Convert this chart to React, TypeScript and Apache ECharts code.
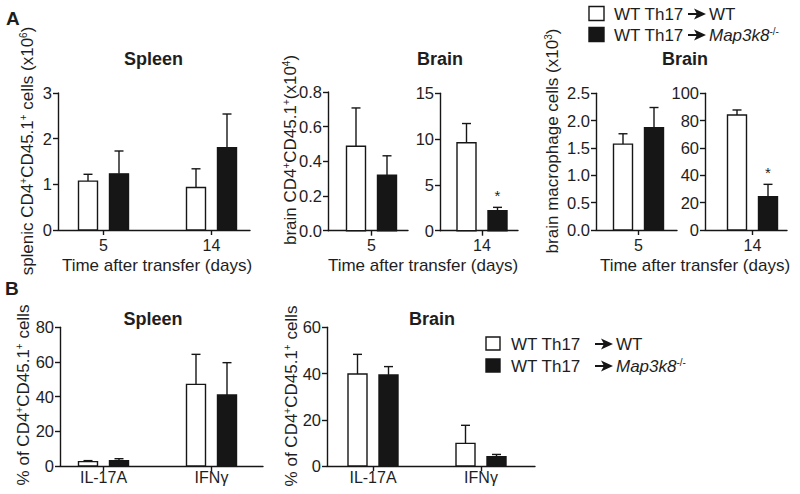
import React, { useEffect, useRef } from "react";
import * as echarts from "echarts";

// ---------- data ----------
const dayCategories = ["5", "14"];
const cytokineCategories = ["IL-17A", "IFNγ"];

// A: splenic CD4+CD45.1+ cells (x10^6), day 5 and 14
const spleenCellsWT = [1.07, 0.93];
const spleenCellsWTErr = [0.15, 0.41];
const spleenCellsKO = [1.23, 1.8];
const spleenCellsKOErr = [0.5, 0.74];

// A: brain CD4+CD45.1+ cells (x10^4), day 5
const brainCellsD5WT = [0.487];
const brainCellsD5WTErr = [0.221];
const brainCellsD5KO = [0.32];
const brainCellsD5KOErr = [0.112];
// day 14
const brainCellsD14WT = [9.6];
const brainCellsD14WTErr = [2.1];
const brainCellsD14KO = [2.18];
const brainCellsD14KOErr = [0.37];
const brainCellsD14Sig = [true];

// A: brain macrophage cells (x10^3), day 5
const macroD5WT = [1.57];
const macroD5WTErr = [0.19];
const macroD5KO = [1.87];
const macroD5KOErr = [0.37];
// day 14
const macroD14WT = [84.1];
const macroD14WTErr = [3.7];
const macroD14KO = [24.4];
const macroD14KOErr = [9.0];
const macroD14Sig = [true];

// B: % of CD4+CD45.1+ cells
const spleenPctWT = [2.5, 47.1];
const spleenPctWTErr = [0.6, 17.3];
const spleenPctKO = [3.1, 41.0];
const spleenPctKOErr = [1.1, 18.6];
const brainPctWT = [39.8, 9.8];
const brainPctWTErr = [8.5, 7.8];
const brainPctKO = [39.4, 4.0];
const brainPctKOErr = [3.6, 1.0];

// y-axis scales
const yMaxes = [3, 0.8, 15, 2.5, 100, 80, 60];
const yIntervals = [1, 0.2, 5, 0.5, 20, 20, 20];
const yDecimals = [0, 1, 0, 1, 0, 0, 0];

const legendWT = "WT";
const legendKO = "Map3k8";
const legendDonor = "WT Th17";

// ---------- style / layout ----------
const FONT = "'Liberation Sans', Arial, Helvetica, sans-serif";
const INK = "#161616";
const TEXT = "#1e1e1e";
const BAND = 108;
const BAR_W = 19;
const BAR_OFF = 15.5;
const CAP = 9;
const LW = 1.4;

type Panel = {
  left: number; right: number; top: number; bottom: number; c0: number;
  cats: string[]; wt: number[]; wtErr: number[]; ko: number[]; koErr: number[];
  sig?: boolean[]; labelMargin: number;
};

const panels: Panel[] = [
  { left: 58, right: 250, top: 93, bottom: 230, c0: 103.5, cats: dayCategories,
    wt: spleenCellsWT, wtErr: spleenCellsWTErr, ko: spleenCellsKO, koErr: spleenCellsKOErr, labelMargin: 7 },
  { left: 328, right: 408, top: 92, bottom: 230.7, c0: 371.5, cats: [dayCategories[0]],
    wt: brainCellsD5WT, wtErr: brainCellsD5WTErr, ko: brainCellsD5KO, koErr: brainCellsD5KOErr, labelMargin: 7 },
  { left: 440, right: 518, top: 93.3, bottom: 230.7, c0: 482, cats: [dayCategories[1]],
    wt: brainCellsD14WT, wtErr: brainCellsD14WTErr, ko: brainCellsD14KO, koErr: brainCellsD14KOErr,
    sig: brainCellsD14Sig, labelMargin: 7 },
  { left: 596, right: 677, top: 93.3, bottom: 230, c0: 638.5, cats: [dayCategories[0]],
    wt: macroD5WT, wtErr: macroD5WTErr, ko: macroD5KO, koErr: macroD5KOErr, labelMargin: 7 },
  { left: 705, right: 787, top: 93.3, bottom: 230, c0: 752.5, cats: [dayCategories[1]],
    wt: macroD14WT, wtErr: macroD14WTErr, ko: macroD14KO, koErr: macroD14KOErr, sig: macroD14Sig, labelMargin: 7 },
  { left: 60, right: 263, top: 327.3, bottom: 466, c0: 103.5, cats: cytokineCategories,
    wt: spleenPctWT, wtErr: spleenPctWTErr, ko: spleenPctKO, koErr: spleenPctKOErr, labelMargin: 3 },
  { left: 327, right: 535, top: 327.3, bottom: 466, c0: 373, cats: cytokineCategories,
    wt: brainPctWT, wtErr: brainPctWTErr, ko: brainPctKO, koErr: brainPctKOErr, labelMargin: 3 },
];

const supRich = {
  s: { fontSize: 10, fontFamily: FONT, fill: TEXT, verticalAlign: "top" as const },
  i: { fontSize: 17, fontFamily: FONT, fill: TEXT, fontStyle: "italic" as const },
};

function makeSeries(pi: number, means: number[], errs: number[], sig: boolean[] | undefined, fill: string, offset: number) {
  return {
    type: "custom",
    xAxisIndex: pi,
    yAxisIndex: pi,
    clip: false,
    encode: { x: 0, y: 1 },
    data: means.map((m, i) => [i, m, errs[i], sig && sig[i] ? 1 : 0]),
    renderItem: (_params: any, api: any) => {
      const i = api.value(0);
      const m = api.value(1);
      const e = api.value(2);
      const s = api.value(3);
      const p0 = api.coord([i, 0]);
      const p1 = api.coord([i, m]);
      const p2 = api.coord([i, m + e]);
      const cx = p0[0] + offset;
      const children: any[] = [
        { type: "line", shape: { x1: cx, y1: p1[1], x2: cx, y2: p2[1] }, style: { stroke: INK, lineWidth: LW } },
        { type: "line", shape: { x1: cx - CAP / 2, y1: p2[1], x2: cx + CAP / 2, y2: p2[1] }, style: { stroke: INK, lineWidth: LW } },
        { type: "rect", shape: { x: cx - BAR_W / 2, y: p1[1], width: BAR_W, height: p0[1] - p1[1] },
          style: { fill, stroke: INK, lineWidth: LW } },
      ];
      if (s) {
        children.push({ type: "text", x: cx, y: p2[1] - 4,
          style: { text: "*", fontSize: 15, fontFamily: FONT, fill: TEXT, align: "center", verticalAlign: "bottom" } });
      }
      return { type: "group", children };
    },
  };
}

function txt(x: number, y: number, text: string, extra: any = {}, rotation = 0) {
  return {
    type: "text", x, y, rotation,
    style: { text, fontSize: 17, fontFamily: FONT, fill: TEXT, align: "center", verticalAlign: "middle", rich: supRich, ...extra },
  };
}

function legend(x0: number, y1: number, y2: number, textX: number, arrowX: number, sq: number) {
  const els: any[] = [];
  const rows = [
    { y: y1, fill: "#ffffff", target: legendWT },
    { y: y2, fill: INK, target: `{i|${legendKO}}{s|-/-}` },
  ];
  rows.forEach((r) => {
    els.push({ type: "rect", shape: { x: x0, y: r.y - sq / 2, width: sq, height: sq - 1 },
      style: { fill: r.fill, stroke: INK, lineWidth: LW } });
    els.push(txt(textX, r.y, legendDonor, { align: "left" }));
    els.push({ type: "line", shape: { x1: arrowX, y1: r.y, x2: arrowX + 10, y2: r.y }, style: { stroke: INK, lineWidth: 2 } });
    els.push({ type: "polygon", shape: { points: [[arrowX + 6, r.y - 5.5], [arrowX + 18, r.y], [arrowX + 6, r.y + 5.5], [arrowX + 9, r.y]] },
      style: { fill: INK } });
    els.push(txt(arrowX + 21, r.y, r.target, { align: "left" }));
  });
  return els;
}

export default function App() {
  const ref = useRef<HTMLDivElement>(null);
  useEffect(() => {
    if (!ref.current) return;
    const chart = echarts.init(ref.current, undefined, { renderer: "svg" });

    const grid = panels.map((p) => ({ left: p.left, top: p.top, width: p.right - p.left, height: p.bottom - p.top }));
    const xAxis = panels.map((p, i) => {
      const ticks = p.cats.map((_, k) => k);
      return {
        type: "value", gridIndex: i,
        min: (p.left - p.c0) / BAND, max: (p.right - p.c0) / BAND,
        axisLine: { show: true, onZero: false, lineStyle: { color: INK, width: LW } },
        axisTick: { show: true, customValues: ticks, length: 5, lineStyle: { color: INK, width: LW } },
        axisLabel: { customValues: ticks, formatter: (v: number) => p.cats[Math.round(v)] ?? "",
          fontSize: 16, fontFamily: FONT, color: TEXT, margin: p.labelMargin },
        splitLine: { show: false },
      };
    });
    const yAxis = panels.map((_p, i) => ({
      type: "value", gridIndex: i, min: 0, max: yMaxes[i], interval: yIntervals[i],
      axisLine: { show: true, onZero: false, lineStyle: { color: INK, width: LW } },
      axisTick: { show: true, length: 5, lineStyle: { color: INK, width: LW } },
      axisLabel: { formatter: (v: number) => v.toFixed(yDecimals[i]), fontSize: 16.5, fontFamily: FONT, color: TEXT, margin: 6 },
      splitLine: { show: false },
    }));
    const series: any[] = [];
    panels.forEach((p, i) => {
      series.push(makeSeries(i, p.wt, p.wtErr, undefined, "#ffffff", -BAR_OFF));
      series.push(makeSeries(i, p.ko, p.koErr, p.sig, INK, BAR_OFF));
    });

    const bold = { fontWeight: "bold", fontSize: 18 };
    const graphic: any[] = [
      txt(6, 18.5, "A", { ...bold, fontSize: 19, align: "left" }),
      txt(5, 288.5, "B", { ...bold, fontSize: 19, align: "left" }),
      txt(153.5, 59, "Spleen", bold),
      txt(440, 59, "Brain", bold),
      txt(685, 59, "Brain", bold),
      txt(153, 319, "Spleen", bold),
      txt(432, 319, "Brain", bold),
      txt(157, 265, "Time after transfer (days)"),
      txt(423, 265, "Time after transfer (days)"),
      txt(695, 265, "Time after transfer (days)"),
      txt(27, 151, "splenic CD4{s|+}CD45.1{s|+} cells (x10{s|6})", {}, Math.PI / 2),
      txt(290, 150, "brain CD4{s|+}CD45.1{s|+}(x10{s|4})", {}, Math.PI / 2),
      txt(552, 141, "brain macrophage cells (x10{s|3})", {}, Math.PI / 2),
      txt(23, 395, "% of CD4{s|+}CD45.1{s|+} cells", {}, Math.PI / 2),
      txt(291, 396, "% of CD4{s|+}CD45.1{s|+} cells", {}, Math.PI / 2),
      ...legend(589, 14, 35, 614, 688, 15),
      ...legend(486, 344, 366, 511, 595, 14),
    ];

    chart.setOption({
      animation: false,
      backgroundColor: "#ffffff",
      textStyle: { fontFamily: FONT },
      grid, xAxis, yAxis, series, graphic,
    });
    return () => chart.dispose();
  }, []);
  return <div ref={ref} style={{ position: "fixed", left: 0, top: 0, width: 800, height: 494 }} />;
}
